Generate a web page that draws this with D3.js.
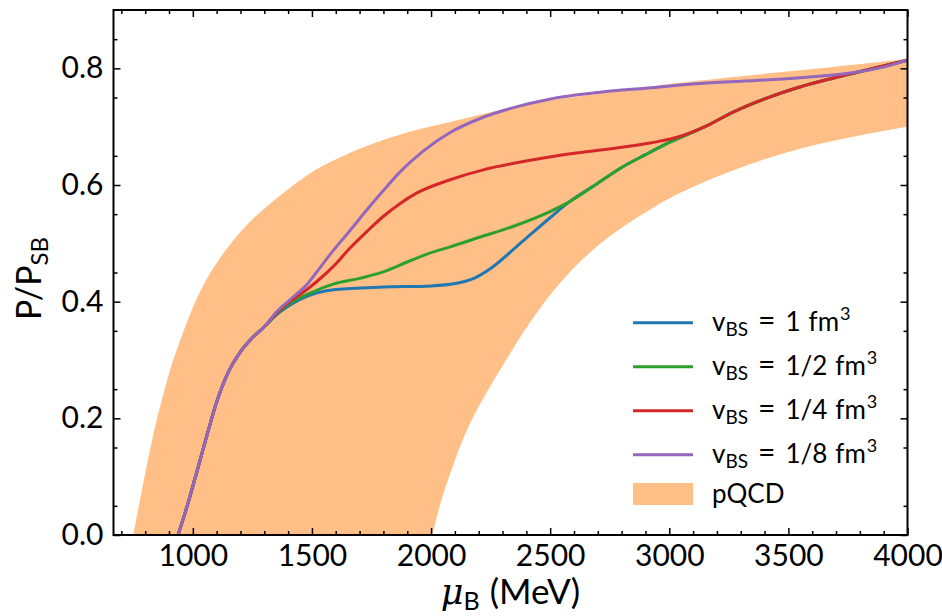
<!DOCTYPE html>
<html>
<head>
<meta charset="utf-8">
<script src="https://cdn.jsdelivr.net/npm/d3@7"></script>
<style>
  body { margin: 0; background: #fff; }
  svg { display: block; font-family: Lato, "Open Sans", sans-serif; }
</style>
</head>
<body>
<svg id="chart" width="942" height="616"></svg>
<script>
// Baryon chemical potential (MeV) and normalized pressure P/P_SB

// pQCD uncertainty band: upper and lower edges
const bandUpper = [
  [750, 0.0], [790, 0.085], [830, 0.165], [870, 0.232], [910, 0.29], [950, 0.337],
  [1000, 0.39], [1060, 0.44], [1120, 0.478], [1180, 0.51], [1240, 0.537],
  [1310, 0.563], [1379, 0.586], [1500, 0.622], [1660, 0.655], [1900, 0.69],
  [2080, 0.708], [2400, 0.738], [2710, 0.757], [3000, 0.773], [3340, 0.788],
  [3700, 0.803], [4000, 0.816]
];
const bandLower = [
  [2005, 0.0], [2040, 0.055], [2080, 0.105], [2130, 0.16], [2180, 0.205],
  [2219, 0.234], [2300, 0.29], [2400, 0.355], [2497, 0.41], [2600, 0.458],
  [2700, 0.496], [2794, 0.525], [2900, 0.553], [3000, 0.577], [3129, 0.602],
  [3300, 0.63], [3548, 0.662], [3800, 0.685], [4000, 0.70]
];

// low-density branch shared by every curve
const common = [
  [938, 0.0], [960, 0.028], [985, 0.062], [1018, 0.11], [1060, 0.172],
  [1100, 0.228], [1150, 0.28], [1200, 0.314], [1250, 0.338], [1300, 0.357]
];
// high-density tails shared between curves
const tailGreen = [
  [2700, 0.603], [2800, 0.63], [2900, 0.652], [3000, 0.673], [3150, 0.70]
];
const tailRed = [
  [3268, 0.725], [3409, 0.749], [3548, 0.768], [3686, 0.783], [3829, 0.797], [4000, 0.814]
];

const curveV1 = [
  [1350, 0.377], [1400, 0.392], [1450, 0.404], [1522, 0.415], [1600, 0.421],
  [1800, 0.425], [2000, 0.427], [2100, 0.431], [2180, 0.44], [2250, 0.457],
  [2358, 0.494], [2497, 0.543], [2580, 0.571]
];
const curveV2 = [
  [1350, 0.378], [1400, 0.395], [1500, 0.416], [1589, 0.43], [1700, 0.44],
  [1799, 0.451], [1900, 0.468], [2000, 0.484], [2080, 0.494], [2200, 0.51],
  [2358, 0.531], [2497, 0.554], [2580, 0.571]
];
const curveV4 = [
  [1350, 0.38], [1400, 0.398], [1460, 0.415], [1522, 0.435], [1589, 0.46],
  [1660, 0.492], [1730, 0.52], [1799, 0.546], [1869, 0.568], [1939, 0.586],
  [2080, 0.609], [2219, 0.626], [2358, 0.638], [2497, 0.648], [2710, 0.66],
  [2920, 0.672], [3050, 0.684], [3150, 0.70]
];
const curveV8 = [
  [1350, 0.382], [1421, 0.408], [1480, 0.43], [1522, 0.452], [1590, 0.488],
  [1660, 0.522], [1730, 0.557], [1799, 0.59], [1869, 0.622], [1967, 0.658],
  [2080, 0.69], [2206, 0.714], [2350, 0.733], [2497, 0.747], [2710, 0.759],
  [2900, 0.766], [3129, 0.774], [3400, 0.780], [3548, 0.784], [3760, 0.792],
  [3900, 0.802], [4000, 0.814]
];

const series = [
  { label: "1", color: "#1f77b4", pts: common.concat(curveV1, tailGreen, tailRed) },
  { label: "1/2", color: "#2ca02c", pts: common.concat(curveV2, tailGreen, tailRed) },
  { label: "1/4", color: "#d62728", pts: common.concat(curveV4, tailRed) },
  { label: "1/8", color: "#9467bd", pts: common.concat(curveV8) }
];

const xMajor = [1000, 1500, 2000, 2500, 3000, 3500, 4000];
const yMajor = [0.0, 0.2, 0.4, 0.6, 0.8];

const svg = d3.select("#chart");
const m = { left: 113.5, right: 907.5, top: 10, bottom: 535 };

const x = d3.scaleLinear().domain([667, 4000]).range([m.left, m.right]);
const y = d3.scaleLinear().domain([0, 0.9]).range([m.bottom, m.top]);

svg.append("clipPath").attr("id", "plotclip")
  .append("rect").attr("x", m.left).attr("y", m.top)
  .attr("width", m.right - m.left).attr("height", m.bottom - m.top);

const plot = svg.append("g").attr("clip-path", "url(#plotclip)");

const lineFn = d3.line().x(d => x(d[0])).y(d => y(d[1])).curve(d3.curveMonotoneX);

// sample a smooth edge so both edges can be joined into one filled polygon
function sampler(pts) {
  const path = document.createElementNS("http://www.w3.org/2000/svg", "path");
  path.setAttribute("d", lineFn(pts));
  svg.node().appendChild(path);
  const L = path.getTotalLength();
  const out = [];
  for (let i = 0; i <= 400; i++) {
    const p = path.getPointAtLength(L * i / 400);
    out.push([p.x, p.y]);
  }
  path.remove();
  return out;
}
const poly = sampler(bandUpper).concat(sampler(bandLower).reverse());
plot.append("path")
  .attr("d", "M" + poly.map(p => p.join(",")).join("L") + "Z")
  .attr("fill", "#ffbf87");

series.forEach(s => {
  plot.append("path")
    .attr("d", lineFn(s.pts))
    .attr("fill", "none")
    .attr("stroke", s.color)
    .attr("stroke-width", 3)
    .attr("stroke-linejoin", "round");
});

// axes with inward ticks on all four sides
const xMinor = d3.range(700, 4001, 100).filter(v => !xMajor.includes(v));
const yMinor = d3.range(0.05, 0.9, 0.1).map(v => +v.toFixed(2));

function tickStyle(g) {
  g.select(".domain").remove();
  g.selectAll(".tick line").attr("stroke", "#000").attr("stroke-width", 1.5);
  g.selectAll(".tick text").attr("fill", "#000").attr("font-size", 30)
    .attr("font-family", "Lato, sans-serif");
}

svg.append("g").attr("transform", `translate(0,${m.bottom})`)
  .call(d3.axisBottom(x).tickValues(xMajor).tickFormat(d3.format("d"))
    .tickSizeInner(-7).tickSizeOuter(0).tickPadding(10))
  .call(tickStyle);
svg.append("g").attr("transform", `translate(0,${m.bottom})`)
  .call(d3.axisBottom(x).tickValues(xMinor).tickFormat("").tickSizeInner(-4).tickSizeOuter(0))
  .call(tickStyle);
svg.append("g").attr("transform", `translate(0,${m.top})`)
  .call(d3.axisTop(x).tickValues(xMajor).tickFormat("").tickSizeInner(-7).tickSizeOuter(0))
  .call(tickStyle);
svg.append("g").attr("transform", `translate(0,${m.top})`)
  .call(d3.axisTop(x).tickValues(xMinor).tickFormat("").tickSizeInner(-4).tickSizeOuter(0))
  .call(tickStyle);

svg.append("g").attr("transform", `translate(${m.left},0)`)
  .call(d3.axisLeft(y).tickValues(yMajor).tickFormat(d3.format(".1f"))
    .tickSizeInner(-7).tickSizeOuter(0).tickPadding(10))
  .call(tickStyle);
svg.append("g").attr("transform", `translate(${m.left},0)`)
  .call(d3.axisLeft(y).tickValues(yMinor).tickFormat("").tickSizeInner(-4).tickSizeOuter(0))
  .call(tickStyle);
svg.append("g").attr("transform", `translate(${m.right},0)`)
  .call(d3.axisRight(y).tickValues(yMajor).tickFormat("").tickSizeInner(-7).tickSizeOuter(0))
  .call(tickStyle);
svg.append("g").attr("transform", `translate(${m.right},0)`)
  .call(d3.axisRight(y).tickValues(yMinor).tickFormat("").tickSizeInner(-4).tickSizeOuter(0))
  .call(tickStyle);

svg.append("rect")
  .attr("x", m.left).attr("y", m.top)
  .attr("width", m.right - m.left).attr("height", m.bottom - m.top)
  .attr("fill", "none").attr("stroke", "#000").attr("stroke-width", 2);

// axis titles
const xt = svg.append("text")
  .attr("x", (m.left + m.right) / 2).attr("y", 604)
  .attr("text-anchor", "middle").attr("font-size", 35).attr("fill", "#000");
xt.append("tspan").attr("font-style", "italic").attr("font-family", "DejaVu Serif, serif").text("μ");
xt.append("tspan").attr("font-size", 25).attr("dy", 6).text("B");
xt.append("tspan").attr("dy", -6).attr("dx", 10).text("(MeV)");

const yt = svg.append("text")
  .attr("transform", `translate(41,${(m.top + m.bottom) / 2 + 6}) rotate(-90)`)
  .attr("text-anchor", "middle").attr("font-size", 34).attr("fill", "#000");
yt.append("tspan").text("P/P");
yt.append("tspan").attr("font-size", 24).attr("dy", 7).text("SB");

// legend
const lg = svg.append("g");
const rowY = [322.7, 366.7, 410.7, 454.7];
series.forEach((s, i) => {
  lg.append("line")
    .attr("x1", 633).attr("x2", 693).attr("y1", rowY[i]).attr("y2", rowY[i])
    .attr("stroke", s.color).attr("stroke-width", 3);
  const t = lg.append("text").attr("x", 712).attr("y", rowY[i] + 8)
    .attr("font-size", 26).attr("fill", "#000");
  t.append("tspan").text("v");
  t.append("tspan").attr("font-size", 19).attr("dy", 5).text("BS");
  t.append("tspan").attr("dy", -5).attr("dx", 10).attr("font-size", 30).text("=");
  t.append("tspan").attr("dx", 10).text(s.label);
  t.append("tspan").attr("dx", 8).text("fm");
  t.append("tspan").attr("font-size", 18).attr("dy", -11).attr("dx", 1).text("3");
});
lg.append("rect").attr("x", 633).attr("y", 483).attr("width", 60).attr("height", 22)
  .attr("fill", "#ffbf87");
lg.append("text").attr("x", 712).attr("y", 503).attr("font-size", 26).attr("fill", "#000")
  .text("pQCD");
</script>
</body>
</html>
